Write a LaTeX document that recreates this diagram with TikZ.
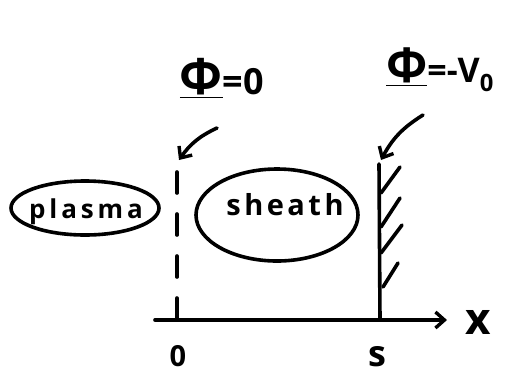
\documentclass[tikz,border=0pt]{standalone}
\usepackage{fontspec}
\setmainfont{Open Sans}
\usetikzlibrary{arrows.meta,shapes.geometric}
\tikzset{
  ink/.style={line width=3.6pt, line cap=round, line join=round},
  barb/.style={-{Straight Barb[length=9pt,width=16pt,line width=3.4pt]}},
  blob/.style={ink, draw, ellipse},
  lbl/.style={inner sep=0pt, font=\bfseries#1},
}
\begin{document}
\begin{tikzpicture}[x=1pt,y=-1pt]
\useasboundingbox (0,0) rectangle (505,376);
% axis
\coordinate (ax0) at (155,320);
\coordinate (ax1) at (447,320);
\draw[ink,barb] (ax0) -- (ax1);
\node[lbl={\fontsize{44}{44}\selectfont}] (xl) at (478,322) {x};
\node[lbl={\fontsize{29}{29}\selectfont}] (zero) at (178,356) {0};
\node[lbl={\fontsize{36}{36}\selectfont}] (sl) at (377,357) {s};
% dashed plane
\coordinate (d0) at (177,172);
\coordinate (d1) at (177,320);
\draw[ink, dash pattern=on 21pt off 21pt] (d0) -- (d1);
% wall
\coordinate (w0) at (379,164);
\coordinate (w1) at (380,320);
\draw[ink] (w0) -- (w1);
\foreach \a/\b/\c/\d in {381/193/400/167, 381/227/400/198, 381/253/402/225, 383/287/398/263}
  \draw[ink] (\a,\b) -- (\c,\d);
% labels
\node[lbl={\fontsize{36}{36}\selectfont}] (phi0) at (222,78) {\underline{\fontsize{50}{50}\selectfont Φ}=0};
\node[lbl={\fontsize{34}{34}\selectfont}] (phiV) at (440,70) {\underline{\fontsize{48}{48}\selectfont Φ}=-V\textsubscript{0}};
% arrows
\coordinate (a1s) at (217,128);
\coordinate (a1e) at (179,160);
\draw[ink,barb] (a1s) to[bend right=15] (a1e);
\coordinate (a2s) at (423,115);
\coordinate (a2e) at (381,160);
\draw[ink,barb] (a2s) to[bend right=15] (a2e);
% regions
\node[blob, minimum width=148pt, minimum height=54pt] (plasmaE) at (85,208) {};
\node[lbl={\fontsize{26}{26}\selectfont\addfontfeatures{LetterSpace=15}}] (plasma) at (86,212) {plasma};
\node[blob, minimum width=162pt, minimum height=92pt] (sheathE) at (277,215) {};
\node[lbl={\fontsize{29}{29}\selectfont\addfontfeatures{LetterSpace=12}}] (sheath) at (285,205) {sheath};
\end{tikzpicture}
\end{document}
